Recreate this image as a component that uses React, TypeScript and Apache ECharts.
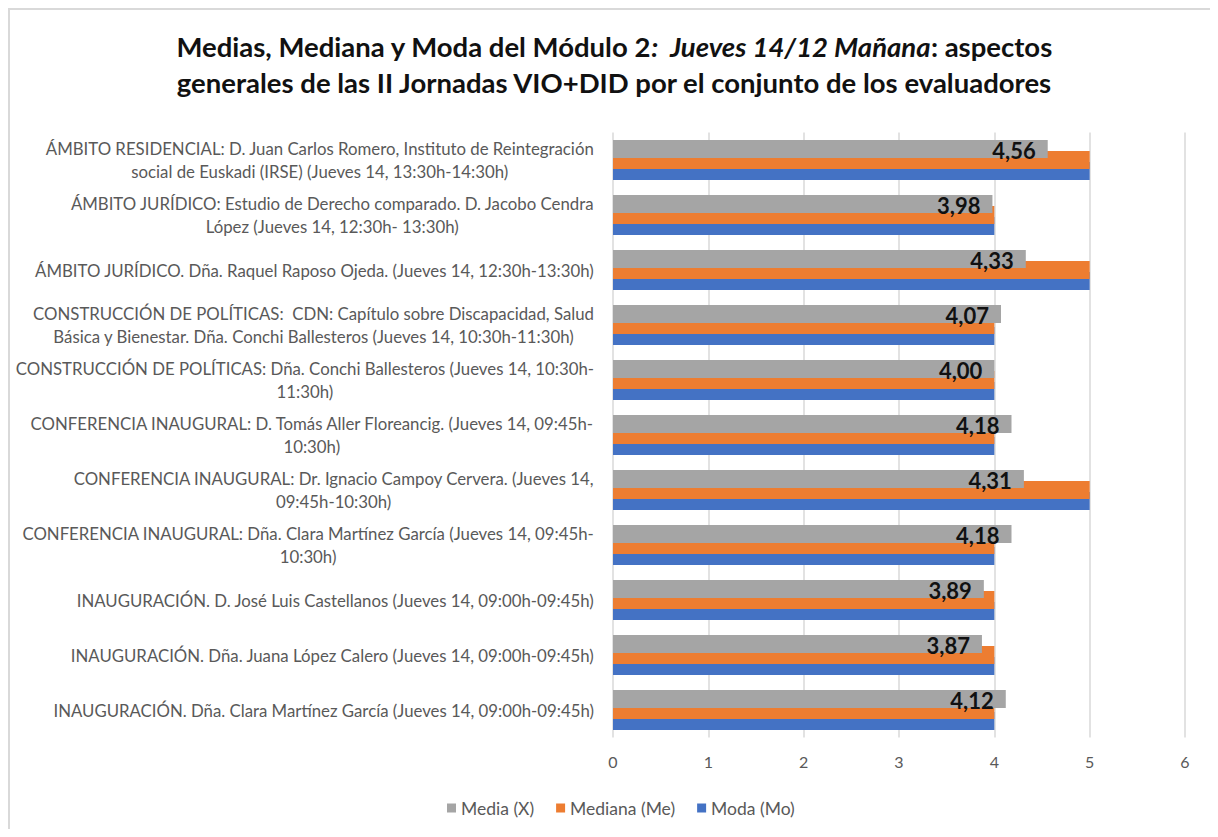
import React, { useEffect, useRef } from "react";
import * as echarts from "echarts";

// Categories, top to bottom as they appear in the chart
const categories: string[] = [
  "ÁMBITO RESIDENCIAL: D. Juan Carlos Romero, Instituto de Reintegración\nsocial de Euskadi (IRSE) (Jueves 14, 13:30h-14:30h)",
  "ÁMBITO JURÍDICO: Estudio de Derecho comparado. D. Jacobo Cendra\nLópez (Jueves 14, 12:30h- 13:30h)",
  "ÁMBITO JURÍDICO. Dña. Raquel Raposo Ojeda. (Jueves 14, 12:30h-13:30h)",
  "CONSTRUCCIÓN DE POLÍTICAS:  CDN: Capítulo sobre Discapacidad, Salud\nBásica y Bienestar. Dña. Conchi Ballesteros (Jueves 14, 10:30h-11:30h)",
  "CONSTRUCCIÓN DE POLÍTICAS: Dña. Conchi Ballesteros (Jueves 14, 10:30h-\n11:30h)",
  "CONFERENCIA INAUGURAL: D. Tomás Aller Floreancig. (Jueves 14, 09:45h-\n10:30h)",
  "CONFERENCIA INAUGURAL: Dr. Ignacio Campoy Cervera. (Jueves 14,\n09:45h-10:30h)",
  "CONFERENCIA INAUGURAL: Dña. Clara Martínez García (Jueves 14, 09:45h-\n10:30h)",
  "INAUGURACIÓN. D. José Luis Castellanos (Jueves 14, 09:00h-09:45h)",
  "INAUGURACIÓN. Dña. Juana López Calero (Jueves 14, 09:00h-09:45h)",
  "INAUGURACIÓN. Dña. Clara Martínez García (Jueves 14, 09:00h-09:45h)",
];

const media: number[] = [4.56, 3.98, 4.33, 4.07, 4.0, 4.18, 4.31, 4.18, 3.89, 3.87, 4.12];
const mediana: number[] = [5, 4, 5, 4, 4, 4, 5, 4, 4, 4, 4];
const moda: number[] = [5, 4, 5, 4, 4, 4, 5, 4, 4, 4, 4];

const seriesNames: string[] = ["Media (X)", "Mediana (Me)", "Moda (Mo)"];
const xTicks = { min: 0, max: 6, interval: 1 };

const LABEL_FONT = "Lato";
const LABEL_SIZE = 16.8;

function measure(text: string): number {
  const c = document.createElement("canvas");
  const ctx = c.getContext("2d");
  if (!ctx) return text.length * 8;
  ctx.font = `${LABEL_SIZE}px ${LABEL_FONT}`;
  return ctx.measureText(text).width;
}

export default function App() {
  const ref = useRef<HTMLDivElement>(null);

  useEffect(() => {
    if (!ref.current) return;
    const chart = echarts.init(ref.current, undefined, { renderer: "svg" });

    // ECharts category y axis runs bottom-up: reverse the top-to-bottom arrays
    const cats = [...categories].reverse();
    const mediaR = [...media].reverse();
    const medianaR = [...mediana].reverse();
    const modaR = [...moda].reverse();

    const rich: Record<string, any> = {};
    cats.forEach((c, i) => {
      const w = Math.max(...c.split("\n").map(measure)) + 2;
      rich["r" + i] = {
        width: w,
        align: "center",
        fontSize: LABEL_SIZE,
        fontFamily: LABEL_FONT,
        color: "#595959",
        lineHeight: 23,
      };
    });

    const barCommon = {
      type: "bar" as const,
      barWidth: 18,
      barGap: "-38.9%",
    };

    chart.setOption({
      animation: false,
      backgroundColor: "#ffffff",
      title: {
        left: "center",
        top: 13,
        text:
          "{b|Medias, Mediana y Moda del Módulo 2}{i|:  Jueves 14/12 Mañana}{b|: aspectos}\n{b|generales de las II Jornadas VIO+DID por el conjunto de los evaluadores}",
        textStyle: {
          rich: {
            b: { fontFamily: "Lato", fontWeight: "bold", fontSize: 27.5, color: "#111", lineHeight: 36 },
            i: { fontFamily: "Lato", fontWeight: "bold", fontStyle: "italic", fontSize: 27.5, color: "#111", lineHeight: 36 },
          },
        },
      },
      legend: {
        data: seriesNames,
        left: 432,
        top: 784,
        icon: "rect",
        itemWidth: 9,
        itemHeight: 9,
        itemGap: 22,
        textStyle: { fontFamily: LABEL_FONT, fontSize: 17.5, color: "#595959" },
      },
      grid: { left: 603, right: 33, top: 122.5, bottom: 91.5, containLabel: false },
      xAxis: {
        type: "value",
        min: xTicks.min,
        max: xTicks.max,
        interval: xTicks.interval,
        axisLine: { show: false },
        axisTick: { show: false },
        splitLine: { show: true, lineStyle: { color: "#d9d9d9", width: 1.5 } },
        axisLabel: { color: "#595959", fontSize: 16, fontFamily: LABEL_FONT, margin: 16 },
      },
      yAxis: {
        type: "category",
        data: cats,
        axisLine: { show: false },
        axisTick: { show: false },
        axisLabel: {
          margin: 18,
          interval: 0,
          formatter: (value: string, index: number) =>
            value
              .split("\n")
              .map((l) => `{r${index}|${l}}`)
              .join("\n"),
          rich,
        },
      },
      series: [
        {
          ...barCommon,
          name: seriesNames[0],
          data: mediaR,
          z: 4,
          itemStyle: { color: "#a5a5a5" },
          label: {
            show: true,
            position: "insideRight",
            distance: 12,
            offset: [0, 1],
            formatter: (p: any) => Number(p.value).toFixed(2).replace(".", ","),
            fontFamily: LABEL_FONT,
            fontWeight: "bold",
            fontSize: 22,
            color: "#111",
          },
        },
        {
          ...barCommon,
          name: seriesNames[1],
          data: medianaR,
          z: 3,
          itemStyle: { color: "#ed7d31" },
        },
        {
          ...barCommon,
          name: seriesNames[2],
          data: modaR,
          z: 2,
          itemStyle: { color: "#4472c4" },
        },
      ],
    });

    return () => chart.dispose();
  }, []);

  return (
    <div
      style={{
        width: 1210,
        height: 821,
        borderLeft: "2px solid #d9d9d9",
        borderTop: "2px solid #d9d9d9",
        boxSizing: "border-box",
        background: "#fff",
      }}
    >
      <div ref={ref} style={{ width: 1208, height: 819 }} />
    </div>
  );
}
